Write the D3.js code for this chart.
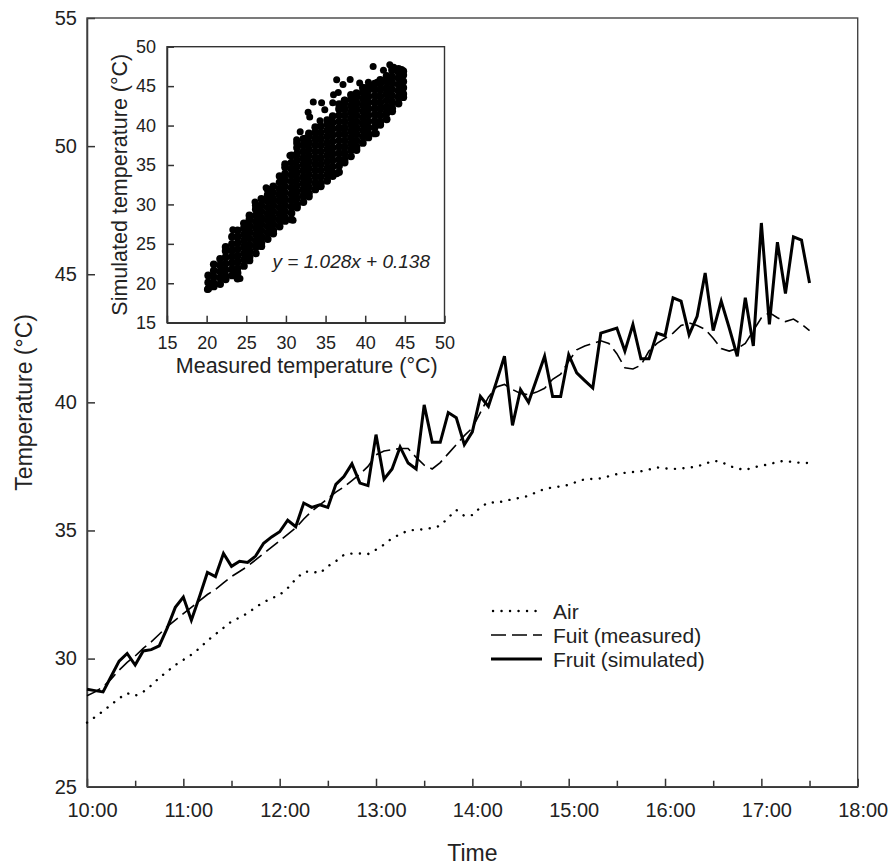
<!DOCTYPE html>
<html>
<head>
<meta charset="utf-8">
<title>Fruit temperature</title>
<script src="https://d3js.org/d3.v7.min.js"></script>
<style>
  body { margin: 0; background: #fff; }
  svg { display: block; font-family: "Liberation Sans", Arial, Helvetica, sans-serif; }
  .tick text { fill: #222; }
</style>
</head>
<body>
<svg id="chart" width="891" height="865"></svg>
<script>

// Time grid: one reading every 5 min starting 10:00
var startHour = 10;
var stepMinutes = 5;

// Air temperature (dotted)
var airTemp = [
  27.5, 27.72, 27.95, 28.2, 28.45, 28.65, 28.55, 28.7, 28.95, 29.25, 29.5, 29.75,
  29.95, 30.15, 30.4, 30.7, 30.95, 31.2, 31.45, 31.6, 31.77, 32.0, 32.2, 32.35,
  32.49, 32.75, 33.1, 33.38, 33.4, 33.33, 33.6, 33.8, 34.05, 34.1, 34.1, 34.08,
  34.25, 34.45, 34.7, 34.85, 35.0, 35.02, 35.05, 35.1, 35.18, 35.5, 35.8, 35.57,
  35.6, 35.9, 36.1, 36.08, 36.15, 36.22, 36.28, 36.35, 36.5, 36.62, 36.68, 36.72,
  36.78, 36.9, 37.0, 37.01, 37.03, 37.12, 37.2, 37.25, 37.28, 37.31, 37.38, 37.46,
  37.42, 37.4, 37.42, 37.45, 37.5, 37.6, 37.72, 37.68, 37.52, 37.42, 37.36, 37.46,
  37.53, 37.58, 37.68, 37.72, 37.66, 37.64, 37.63
];

// Fruit temperature, measured (dashed)
var fruitMeasured = [
  28.55, 28.7, 28.9, 29.2, 29.55, 29.85, 30.1, 30.4, 30.65, 30.95, 31.25, 31.5,
  31.75, 32.0, 32.25, 32.5, 32.7, 32.95, 33.2, 33.4, 33.6, 33.85, 34.1, 34.35,
  34.6, 34.85, 35.1, 35.45, 35.75, 36.0, 36.25, 36.5, 36.7, 36.95, 37.2, 37.5,
  37.95, 38.1, 38.15, 38.2, 38.2, 37.85, 37.55, 37.4, 37.65, 38.0, 38.35, 38.7,
  39.0, 39.6, 40.2, 40.6, 40.7, 40.5, 40.35, 40.3, 40.4, 40.55, 40.9, 41.1,
  41.6, 42.05, 42.2, 42.3, 42.4, 42.3, 41.9, 41.35, 41.3, 41.45, 42.0, 42.3,
  42.5, 42.7, 43.0, 43.1, 43.0, 42.85, 42.5, 42.1, 42.0, 42.1, 42.3, 42.8,
  43.3, 43.5, 43.3, 43.15, 43.25, 43.05, 42.8
];

// Fruit temperature, simulated (solid)
var fruitSimulated = [
  28.8, 28.75, 28.7, 29.3, 29.9, 30.2, 29.75, 30.3, 30.35, 30.5, 31.2, 32.0,
  32.4, 31.5, 32.4, 33.36, 33.2, 34.1, 33.6, 33.8, 33.75, 34.0, 34.5, 34.75,
  34.95, 35.4, 35.15, 36.07, 35.9, 36.0, 35.9, 36.8, 37.1, 37.6, 36.85, 36.75,
  38.74, 37.0, 37.4, 38.26, 37.63, 37.4, 39.9, 38.44, 38.44, 39.6, 39.4, 38.35,
  38.85, 40.23, 39.84, 40.8, 41.8, 39.1, 40.5, 40.0, 40.9, 41.8, 40.23, 40.23,
  41.86, 41.15, 40.85, 40.56, 42.7, 42.8, 42.9, 42.0, 43.04, 41.7, 41.7, 42.7,
  42.6, 44.08, 43.95, 42.64, 43.36, 45.05, 42.8, 43.95, 42.9, 41.8, 44.08, 42.2,
  47.0, 43.04, 46.25, 44.25, 46.46, 46.33, 44.66
];

var timeTicks = [10, 10.5, 11, 11.5, 12, 12.5, 13, 13.5, 14, 14.5, 15, 15.5, 16, 16.5, 17, 17.5, 18];
var tempTicks = [25, 30, 35, 40, 45, 50, 55];

var legendNames = ["Air", "Fuit (measured)", "Fruit (simulated)"];

// Inset scatter: measured temperature columns and the simulated values read in each
var scatterMeasured = [20.2, 20.9, 21.7, 22.4, 23.2, 23.9, 24.7, 25.4, 26.2, 26.9, 27.7, 28.4,
  29.2, 29.9, 30.7, 31.4, 32.2, 32.9, 33.7, 34.4, 35.2, 35.9, 36.7, 37.4, 38.2, 38.9,
  39.7, 40.4, 41.2, 41.9, 42.7, 43.4, 44.2, 44.8];
var scatterSimulated = [
  [19.3, 20.1, 21.0],
  [19.6, 20.0, 20.8, 21.6, 22.4],
  [19.9, 20.7, 21.5, 22.3, 23.1],
  [20.5, 20.9, 21.7, 22.5, 23.3, 24.1, 24.6],
  [21.0, 21.8, 22.6, 23.4, 24.2, 25.0, 25.9],
  [20.6, 21.3, 21.9, 22.7, 23.5, 24.3, 25.1, 25.9, 26.7],
  [22.2, 23.0, 23.8, 24.6, 25.4, 26.2, 27.0, 27.6],
  [22.9, 23.3, 24.1, 24.9, 25.7, 26.5, 27.3, 28.1, 28.6],
  [23.8, 24.6, 25.4, 26.2, 27.0, 27.8, 28.6, 29.4, 29.9],
  [24.7, 25.1, 25.9, 26.7, 27.5, 28.3, 29.1, 29.9, 30.7],
  [25.6, 26.4, 27.2, 28.0, 28.8, 29.6, 30.4, 31.2, 31.9],
  [26.3, 26.7, 27.5, 28.3, 29.1, 29.9, 30.7, 31.5, 32.3],
  [27.2, 28.0, 28.8, 29.6, 30.4, 31.2, 32.0, 32.8, 33.6],
  [27.9, 28.3, 29.1, 29.9, 30.7, 31.5, 32.3, 33.1, 33.9, 34.7, 35.1],
  [28.1, 28.9, 29.7, 30.5, 31.3, 32.1, 32.9, 33.7, 34.5, 35.3, 36.2],
  [29.6, 30.0, 30.8, 31.6, 32.4, 33.2, 34.0, 34.8, 35.6, 36.4, 37.2, 37.8],
  [30.3, 31.1, 31.9, 32.7, 33.5, 34.3, 35.1, 35.9, 36.7, 37.5, 38.3],
  [31.0, 31.4, 32.2, 33.0, 33.8, 34.6, 35.4, 36.2, 37.0, 37.8, 38.6, 39.0],
  [31.9, 32.7, 33.5, 34.3, 35.1, 35.9, 36.7, 37.5, 38.3, 39.1, 39.8],
  [32.3, 32.7, 33.5, 34.3, 35.1, 35.9, 36.7, 37.5, 38.3, 39.1, 39.9],
  [33.0, 33.8, 34.6, 35.4, 36.2, 37.0, 37.8, 38.6, 39.4, 40.2, 40.7],
  [33.6, 34.0, 34.8, 35.6, 36.4, 37.2, 38.0, 38.8, 39.6, 40.4, 41.2],
  [34.1, 34.9, 35.7, 36.5, 37.3, 38.1, 38.9, 39.7, 40.5, 41.3, 42.1, 42.7],
  [35.3, 35.7, 36.5, 37.3, 38.1, 38.9, 39.7, 40.5, 41.3, 42.1, 42.9, 43.2],
  [36.1, 36.9, 37.7, 38.5, 39.3, 40.1, 40.9, 41.7, 42.5, 43.3, 43.9],
  [36.9, 37.3, 38.1, 38.9, 39.7, 40.5, 41.3, 42.1, 42.9, 43.7, 44.1],
  [37.8, 38.6, 39.4, 40.2, 41.0, 41.8, 42.6, 43.4, 44.2, 44.8],
  [38.5, 38.9, 39.7, 40.5, 41.3, 42.1, 42.9, 43.7, 44.5, 44.9],
  [39.0, 39.8, 40.6, 41.4, 42.2, 43.0, 43.8, 44.6, 45.3],
  [40.1, 40.5, 41.3, 42.1, 42.9, 43.7, 44.5, 45.3, 45.8],
  [40.8, 41.6, 42.4, 43.2, 44.0, 44.8, 45.6, 46.3],
  [41.8, 42.2, 43.0, 43.8, 44.6, 45.4, 46.2, 47.0, 47.3],
  [42.8, 43.6, 44.4, 45.2, 46.0, 46.8, 47.2],
  [43.6, 44.0, 44.8, 45.6, 46.4, 46.9]
];
// stray points off the main cloud
var strayMeasured = [41.0, 43.1, 44.6, 36.4, 38.1, 37.2, 39.3, 40.4, 41.5, 36.0, 36.6, 33.45, 34.5,
  34.9, 32.8, 33.0, 34.3, 35.9, 37.4, 31.8, 31.35, 32.4, 30.5, 41.4, 36.4, 30.9, 24.2, 27.5,
  26.1, 23.3, 20.1, 42.3, 43.6];
var straySimulated = [47.5, 47.7, 47.1, 45.8, 45.85, 45.2, 45.4, 45.5, 45.5, 43.9, 44.2, 43.0, 42.9,
  42.0, 41.7, 41.1, 40.6, 42.9, 43.2, 39.2, 38.2, 38.4, 36.2, 39.0, 33.9, 28.0, 20.6, 32.1,
  30.3, 26.8, 19.2, 47.0, 47.4];
var insetTicks = [15, 20, 25, 30, 35, 40, 45, 50];
var fitLabel = "y = 1.028x + 0.138";

// ---------- main chart ----------
var plot = { left: 87, top: 18, right: 857.7, bottom: 786.7 };
var svg = d3.select("#chart");

var x = d3.scaleLinear().domain([10, 18]).range([plot.left, plot.right]);
var y = d3.scaleLinear().domain([25, 55]).range([plot.bottom, plot.top]);

function timeOf(i) { return startHour + i * stepMinutes / 60; }

function styleAxis(g) {
  g.select(".domain").attr("stroke", "#333").attr("stroke-width", 1.5);
  g.selectAll(".tick line").attr("stroke", "#333").attr("stroke-width", 1.5);
}

var xAxis = svg.append("g")
  .attr("transform", "translate(0," + plot.bottom + ")")
  .call(d3.axisBottom(x).tickValues(timeTicks).tickSize(-8).tickSizeOuter(0)
    .tickFormat(function (d) { return d % 1 === 0 ? d + ":00" : ""; }));
xAxis.call(styleAxis);
xAxis.selectAll(".tick line").attr("y2", function (d) { return d % 1 === 0 ? -8 : -6; });
xAxis.selectAll(".tick text").attr("y", 30).attr("dy", 0).attr("dx", 5)
  .style("font-size", "20px");

var yAxis = svg.append("g")
  .attr("transform", "translate(" + plot.left + ",0)")
  .call(d3.axisLeft(y).tickValues(tempTicks).tickSize(-8).tickSizeOuter(0).tickPadding(10));
yAxis.call(styleAxis);
yAxis.selectAll(".tick text").style("font-size", "20px");

// frame
svg.append("rect")
  .attr("x", plot.left).attr("y", plot.top)
  .attr("width", plot.right - plot.left).attr("height", plot.bottom - plot.top)
  .attr("fill", "none").attr("stroke", "#444").attr("stroke-width", 1.4);

// axis titles
svg.append("text")
  .attr("x", (plot.left + plot.right) / 2).attr("y", 861)
  .attr("text-anchor", "middle").style("font-size", "23px").attr("fill", "#222")
  .text("Time");
svg.append("text")
  .attr("transform", "translate(32," + (plot.top + plot.bottom) / 2 + ") rotate(-90)")
  .attr("text-anchor", "middle").style("font-size", "23px").attr("fill", "#222")
  .text("Temperature (°C)");

// series
var line = d3.line()
  .x(function (d, i) { return x(timeOf(i)); })
  .y(function (d) { return y(d); });

var series = [
  { values: airTemp, width: 2.4, dash: "0.1,8.4", cap: "round" },
  { values: fruitMeasured, width: 1.6, dash: "15,6", cap: "butt" },
  { values: fruitSimulated, width: 3, dash: null, cap: "butt" }
];

series.forEach(function (s) {
  svg.append("path")
    .datum(s.values)
    .attr("d", line)
    .attr("fill", "none")
    .attr("stroke", "#000")
    .attr("stroke-width", s.width)
    .attr("stroke-dasharray", s.dash)
    .attr("stroke-linecap", s.cap)
    .attr("stroke-linejoin", "miter");
});

// legend
var legend = svg.append("g").attr("transform", "translate(491,611)");
legendNames.forEach(function (name, i) {
  var s = series[i];
  var row = legend.append("g").attr("transform", "translate(0," + (i * 24) + ")");
  row.append("line")
    .attr("x1", i === 0 ? 2 : 0).attr("x2", i === 0 ? 45 : 51)
    .attr("stroke", "#000").attr("stroke-width", s.width)
    .attr("stroke-dasharray", s.dash).attr("stroke-linecap", s.cap);
  row.append("text")
    .attr("x", 62).attr("y", 7.5)
    .style("font-size", "21px").attr("fill", "#222")
    .text(name);
});

// ---------- inset ----------
var inset = { left: 167, top: 46.7, right: 444.5, bottom: 322.7 };
var ix = d3.scaleLinear().domain([15, 50]).range([inset.left, inset.right]);
var iy = d3.scaleLinear().domain([15, 50]).range([inset.bottom, inset.top]);

svg.append("rect")
  .attr("x", inset.left).attr("y", inset.top)
  .attr("width", inset.right - inset.left).attr("height", inset.bottom - inset.top)
  .attr("fill", "#fff");

var dots = svg.append("g");
scatterMeasured.forEach(function (m, c) {
  scatterSimulated[c].forEach(function (s) {
    dots.append("circle").attr("cx", ix(m)).attr("cy", iy(s)).attr("r", 3.9).attr("fill", "#000");
  });
});
strayMeasured.forEach(function (m, k) {
  dots.append("circle").attr("cx", ix(m)).attr("cy", iy(straySimulated[k])).attr("r", 3.5).attr("fill", "#000");
});

var ixAxis = svg.append("g")
  .attr("transform", "translate(0," + inset.bottom + ")")
  .call(d3.axisBottom(ix).tickValues(insetTicks).tickSize(-7).tickSizeOuter(0));
ixAxis.call(styleAxis);
ixAxis.selectAll(".tick text").attr("y", 26.6).attr("dy", 0).style("font-size", "18px");

var iyAxis = svg.append("g")
  .attr("transform", "translate(" + inset.left + ",0)")
  .call(d3.axisLeft(iy).tickValues(insetTicks).tickSize(-7).tickSizeOuter(0).tickPadding(11));
iyAxis.call(styleAxis);
iyAxis.selectAll(".tick text").style("font-size", "18px");

svg.append("rect")
  .attr("x", inset.left).attr("y", inset.top)
  .attr("width", inset.right - inset.left).attr("height", inset.bottom - inset.top)
  .attr("fill", "none").attr("stroke", "#333").attr("stroke-width", 1.4);

svg.append("text")
  .attr("x", (inset.left + inset.right) / 2 + 1).attr("y", 373)
  .attr("text-anchor", "middle").style("font-size", "21.5px").attr("fill", "#222")
  .text("Measured temperature (°C)");
svg.append("text")
  .attr("transform", "translate(127," + (inset.top + inset.bottom) / 2 + ") rotate(-90)")
  .attr("text-anchor", "middle").style("font-size", "21.5px").attr("fill", "#222")
  .text("Simulated temperature (°C)");

svg.append("text")
  .attr("x", 430).attr("y", 268)
  .attr("text-anchor", "end").style("font-size", "19px").style("font-style", "italic")
  .attr("fill", "#222")
  .text(fitLabel);

</script>
</body>
</html>
